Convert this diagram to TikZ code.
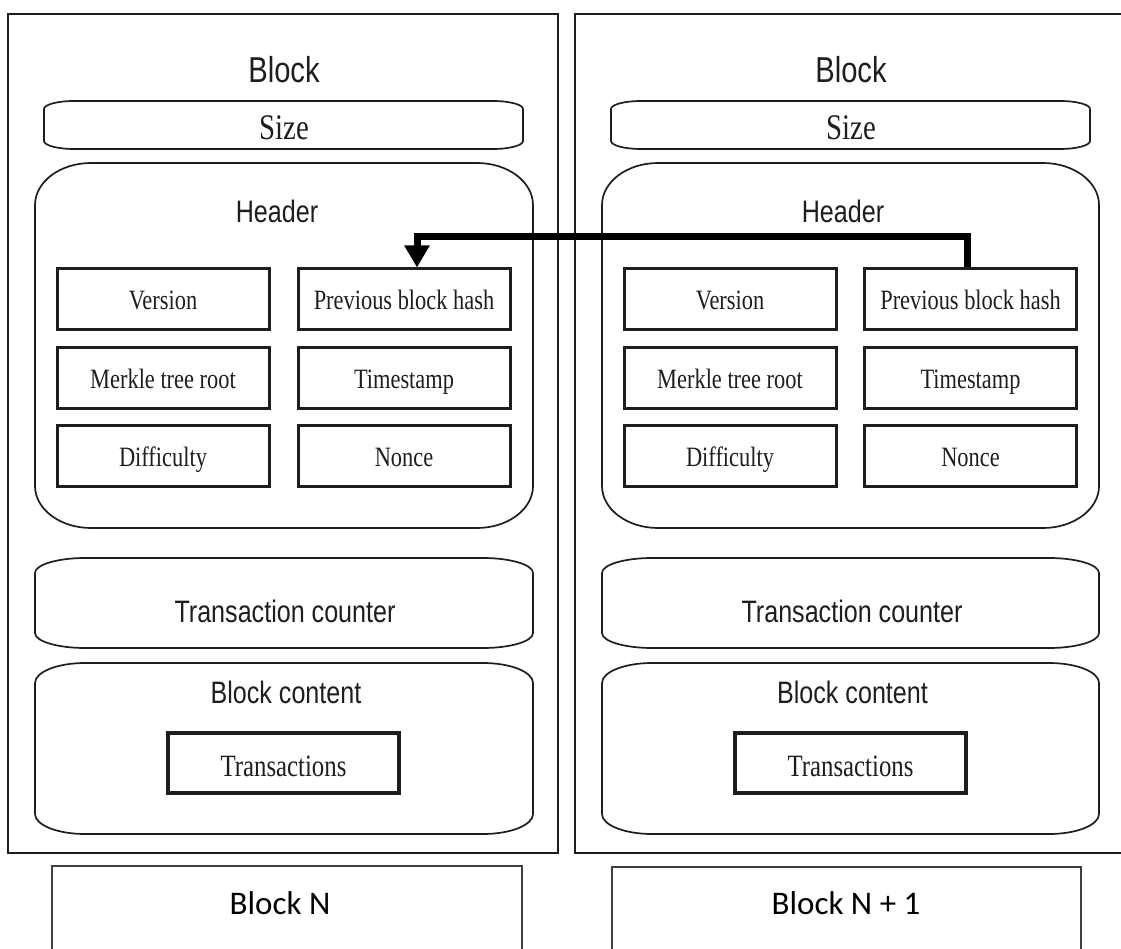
\documentclass[tikz,border=0pt]{standalone}
\usepackage{fontspec}
\usetikzlibrary{arrows.meta,calc}
\newfontfamily\nsans[FakeStretch=0.81]{Liberation Sans}
\newfontfamily\nserif[FakeStretch=0.8]{Liberation Serif}
\newfontfamily\carl{Carlito}
\definecolor{ln}{HTML}{1E1E1E}
% elliptical-corner box: #1 style, #2 x1, #3 y1, #4 x2, #5 y2, #6 rx, #7 ry
\newcommand\ebox[7]{%
\draw[#1] (#2,{#3+#7}) .. controls (#2,{#3+0.448*#7}) and ({#2+0.448*#6},#3) .. ({#2+#6},#3)
 -- ({#4-#6},#3) .. controls ({#4-0.448*#6},#3) and (#4,{#3+0.448*#7}) .. (#4,{#3+#7})
 -- (#4,{#5-#7}) .. controls (#4,{#5-0.448*#7}) and ({#4-0.448*#6},#5) .. ({#4-#6},#5)
 -- ({#2+#6},#5) .. controls ({#2+0.448*#6},#5) and (#2,{#5-0.448*#7}) .. (#2,{#5-#7}) -- cycle;}
\tikzset{
  outerbox/.style={draw=ln, line width=2.6pt},
  softbox/.style={draw=ln, line width=1.7pt},
  cell/.style={draw=ln, line width=3pt, minimum width=212pt, minimum height=61pt, inner sep=0pt,
     text height=27pt, text depth=6pt,
     font=\nserif\fontsize{28}{30}\selectfont, text=ln},
  txbox/.style={draw=ln, line width=3.4pt, minimum width=231pt, minimum height=60pt, inner sep=0pt,
     text height=32pt, text depth=6pt,
     font=\nserif\fontsize{31}{33}\selectfont, text=ln},
  bigsans/.style={anchor=base, inner sep=0pt, font=\nsans\fontsize{36}{38}\selectfont, text=ln},
  sans/.style={anchor=base, inner sep=0pt, font=\nsans\fontsize{31}{33}\selectfont, text=ln},
  sizetxt/.style={anchor=base, inner sep=0pt, font=\nserif\fontsize{36}{38}\selectfont, text=ln},
  captxt/.style={anchor=base, inner sep=0pt, font=\carl\fontsize{33}{35}\selectfont, text=black},
  capbox/.style={draw=ln!85, line width=1.3pt},
  linkarrow/.style={draw=black, line width=7pt, -{Triangle[length=22pt,width=24pt]}}
}
\begin{document}
\begin{tikzpicture}[x=1pt,y=-1pt]
\useasboundingbox (0,0) rectangle (1121,949);
\fill[white] (0,0) rectangle (1121,949);

% ---------- left block ----------
\draw[outerbox] (8,14) rectangle (558,853);
\node[bigsans] (blk1) at (284,83) {Block};
\ebox{softbox}{44}{101}{523}{149}{30}{8}
\node[sizetxt] (size1) at (284,140) {Size};
\ebox{softbox}{35}{163}{533}{528}{56}{42}
\node[sans] (hdr1) at (277,223) {Header};
\node[cell] (ver1) at (163,299.5) {Version};
\node[cell] (ph1) at (404,299.5) {Previous block hash};
\node[cell] (mk1) at (163,377.5) {Merkle tree root};
\node[cell] (ts1) at (404,377.5) {Timestamp};
\node[cell] (df1) at (163,455.5) {Difficulty};
\node[cell] (nc1) at (404,455.5) {Nonce};
\ebox{softbox}{35}{558}{533}{648}{50}{15}
\node[sans] (tc1) at (285,622) {Transaction counter};
\ebox{softbox}{35}{663}{533}{834}{50}{20}
\node[sans] (bc1) at (286,703) {Block content};
\node[txbox] (tx1) at (283.5,763) {Transactions};
\draw[capbox] (52,949) -- (52,866) -- (522,866) -- (522,949);
\node[captxt] (cap1) at (280,914) {Block N};

% ---------- right block ----------
\draw[outerbox] (1122,14) -- (575,14) -- (575,853) -- (1122,853);
\node[bigsans] (blk2) at (851,83) {Block};
\ebox{softbox}{611}{101}{1090}{149}{30}{8}
\node[sizetxt] (size2) at (851,140) {Size};
\ebox{softbox}{602}{163}{1099}{528}{56}{42}
\node[sans] (hdr2) at (843,223) {Header};
\node[cell] (ver2) at (730,299.5) {Version};
\node[cell] (ph2) at (970.5,299.5) {Previous block hash};
\node[cell] (mk2) at (730,377.5) {Merkle tree root};
\node[cell] (ts2) at (970.5,377.5) {Timestamp};
\node[cell] (df2) at (730,455.5) {Difficulty};
\node[cell] (nc2) at (970.5,455.5) {Nonce};
\ebox{softbox}{602}{558}{1099}{648}{50}{15}
\node[sans] (tc2) at (852,622) {Transaction counter};
\ebox{softbox}{602}{663}{1099}{834}{50}{20}
\node[sans] (bc2) at (852.5,703) {Block content};
\node[txbox] (tx2) at (850.5,763) {Transactions};
\draw[capbox] (612,949) -- (612,867) -- (1081,867) -- (1081,949);
\node[captxt] (cap2) at (846,914) {Block N + 1};

% ---------- link arrow ----------
\draw[linkarrow] ([xshift=-3.5pt]ph2.north) -- ++(0,-31) -| ([xshift=13pt]ph1.north);
\end{tikzpicture}
\end{document}
